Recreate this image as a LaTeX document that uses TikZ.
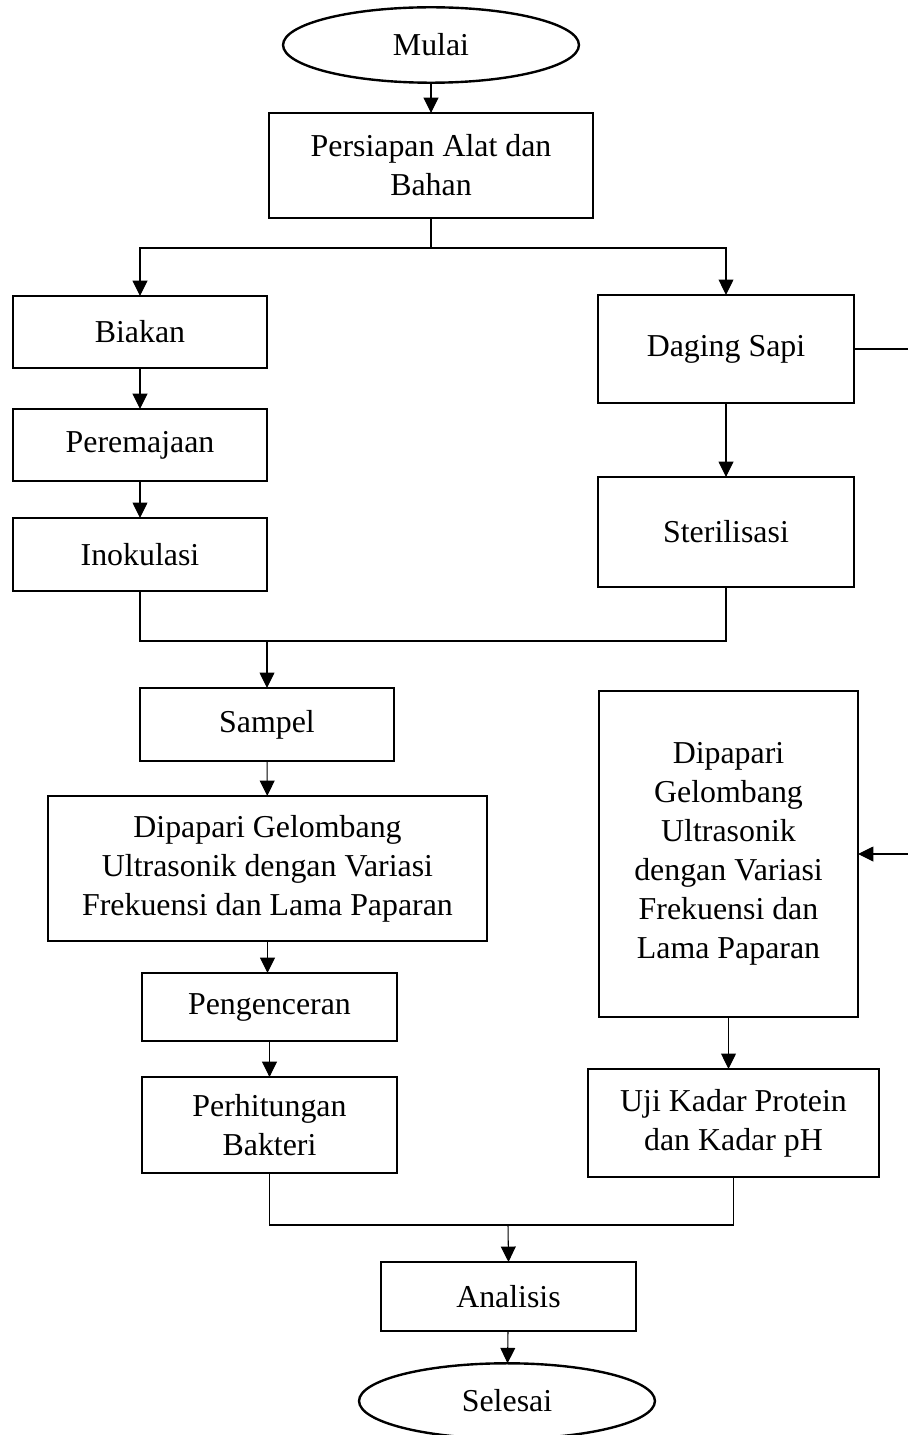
\documentclass[tikz,border=0pt]{standalone}
\usepackage{fontspec}
\setmainfont{Liberation Serif}
\usetikzlibrary{shapes.geometric,arrows.meta}

\begin{document}
\begin{tikzpicture}[x=0.3765pt, y=-0.3765pt,
    font=\fontsize{12}{14.7}\selectfont,
    box/.style={draw, line width=0.9pt, align=center, inner sep=2pt, outer sep=0pt},
    term/.style={ellipse, draw, line width=0.9pt, inner sep=0pt, outer sep=0pt,
        minimum width=111.4pt, minimum height=28.4pt},
    flow/.style={line width=0.4pt, -{Triangle[length=5.8pt,width=5.6pt]}},
    link/.style={line width=0.4pt}]
    \useasboundingbox (0,0) rectangle (907,1435);

    % Start and preparation
    \node[term] (mulai) at (431,45) {Mulai};
    \node[box, minimum width=122pt, minimum height=39.5pt] (persiapan) at (431,165.5)
        {Persiapan Alat dan\\Bahan};

    % Left branch: bacteria
    \node[box, minimum width=95.6pt, minimum height=27.1pt] (biakan) at (140,332) {Biakan};
    \node[box, minimum width=95.6pt, minimum height=27.1pt] (peremajaan) at (140,445) {Peremajaan};
    \node[box, minimum width=95.6pt, minimum height=27.5pt] (inokulasi) at (140,554.5) {Inokulasi};

    % Right branch: beef
    \node[box, minimum width=96.4pt, minimum height=40.7pt] (daging) at (726,349) {Daging Sapi};
    \node[box, minimum width=96.4pt, minimum height=41.4pt] (sterilisasi) at (726,532) {Sterilisasi};

    % Left column below the join
    \node[box, minimum width=95.6pt, minimum height=27.5pt] (sampel) at (267,724.5) {Sampel};
    \node[box, minimum width=165.3pt, minimum height=54.6pt] (dipapari) at (267.5,868.5)
        {Dipapari Gelombang\\Ultrasonik dengan Variasi\\Frekuensi dan Lama Paparan};
    \node[box, minimum width=96pt, minimum height=25.6pt] (pengenceran) at (269.5,1007) {Pengenceran};
    \node[box, minimum width=96pt, minimum height=36.1pt] (perhitungan) at (269.5,1125)
        {Perhitungan\\Bakteri};

    % Right column
    \node[box, minimum width=97.5pt, minimum height=122.7pt] (dipaparidaging) at (728.5,854)
        {Dipapari\\Gelombang\\Ultrasonik\\dengan Variasi\\Frekuensi dan\\Lama Paparan};
    \node[box, minimum width=109.6pt, minimum height=40.7pt] (uji) at (733.5,1123)
        {Uji Kadar Protein\\dan Kadar pH};

    % End
    \node[box, minimum width=96pt, minimum height=26pt] (analisis) at (508.5,1296.5) {Analisis};
    \node[term] (selesai) at (507,1401) {Selesai};

    % Helper points
    \coordinate (splitA) at (431,248);
    \coordinate (joinA) at (267,641);
    \coordinate (joinB) at (508,1225);
    \coordinate (rightbend) at (915,600);

    % Connectors
    \draw[flow] (mulai) -- (persiapan);
    \draw[link] (persiapan.south) -- (splitA);
    \draw[flow] (splitA) -| (biakan.north);
    \draw[flow] (splitA) -| (daging.north);
    \draw[flow] (biakan) -- (peremajaan);
    \draw[flow] (peremajaan) -- (inokulasi);
    \draw[flow] (daging) -- (sterilisasi);
    \draw[link] (inokulasi.south) |- (joinA) -| (sterilisasi.south);
    \draw[flow] (joinA) -- (sampel.north);
    \draw[flow] (sampel) -- (dipapari);
    \draw[flow] (dipapari.south) -- (dipapari.south |- pengenceran.north);
    \draw[flow] (pengenceran) -- (perhitungan);
    \draw[flow] (daging.east) -| (rightbend) |- (dipaparidaging.east);
    \draw[flow] (dipaparidaging.south) -- (dipaparidaging.south |- uji.north);
    \draw[link] (perhitungan.south) |- (joinB) -| (uji.south);
    \draw[flow] (joinB) -- (analisis.north);
    \draw[flow] (analisis) -- (selesai);
\end{tikzpicture}
\end{document}
